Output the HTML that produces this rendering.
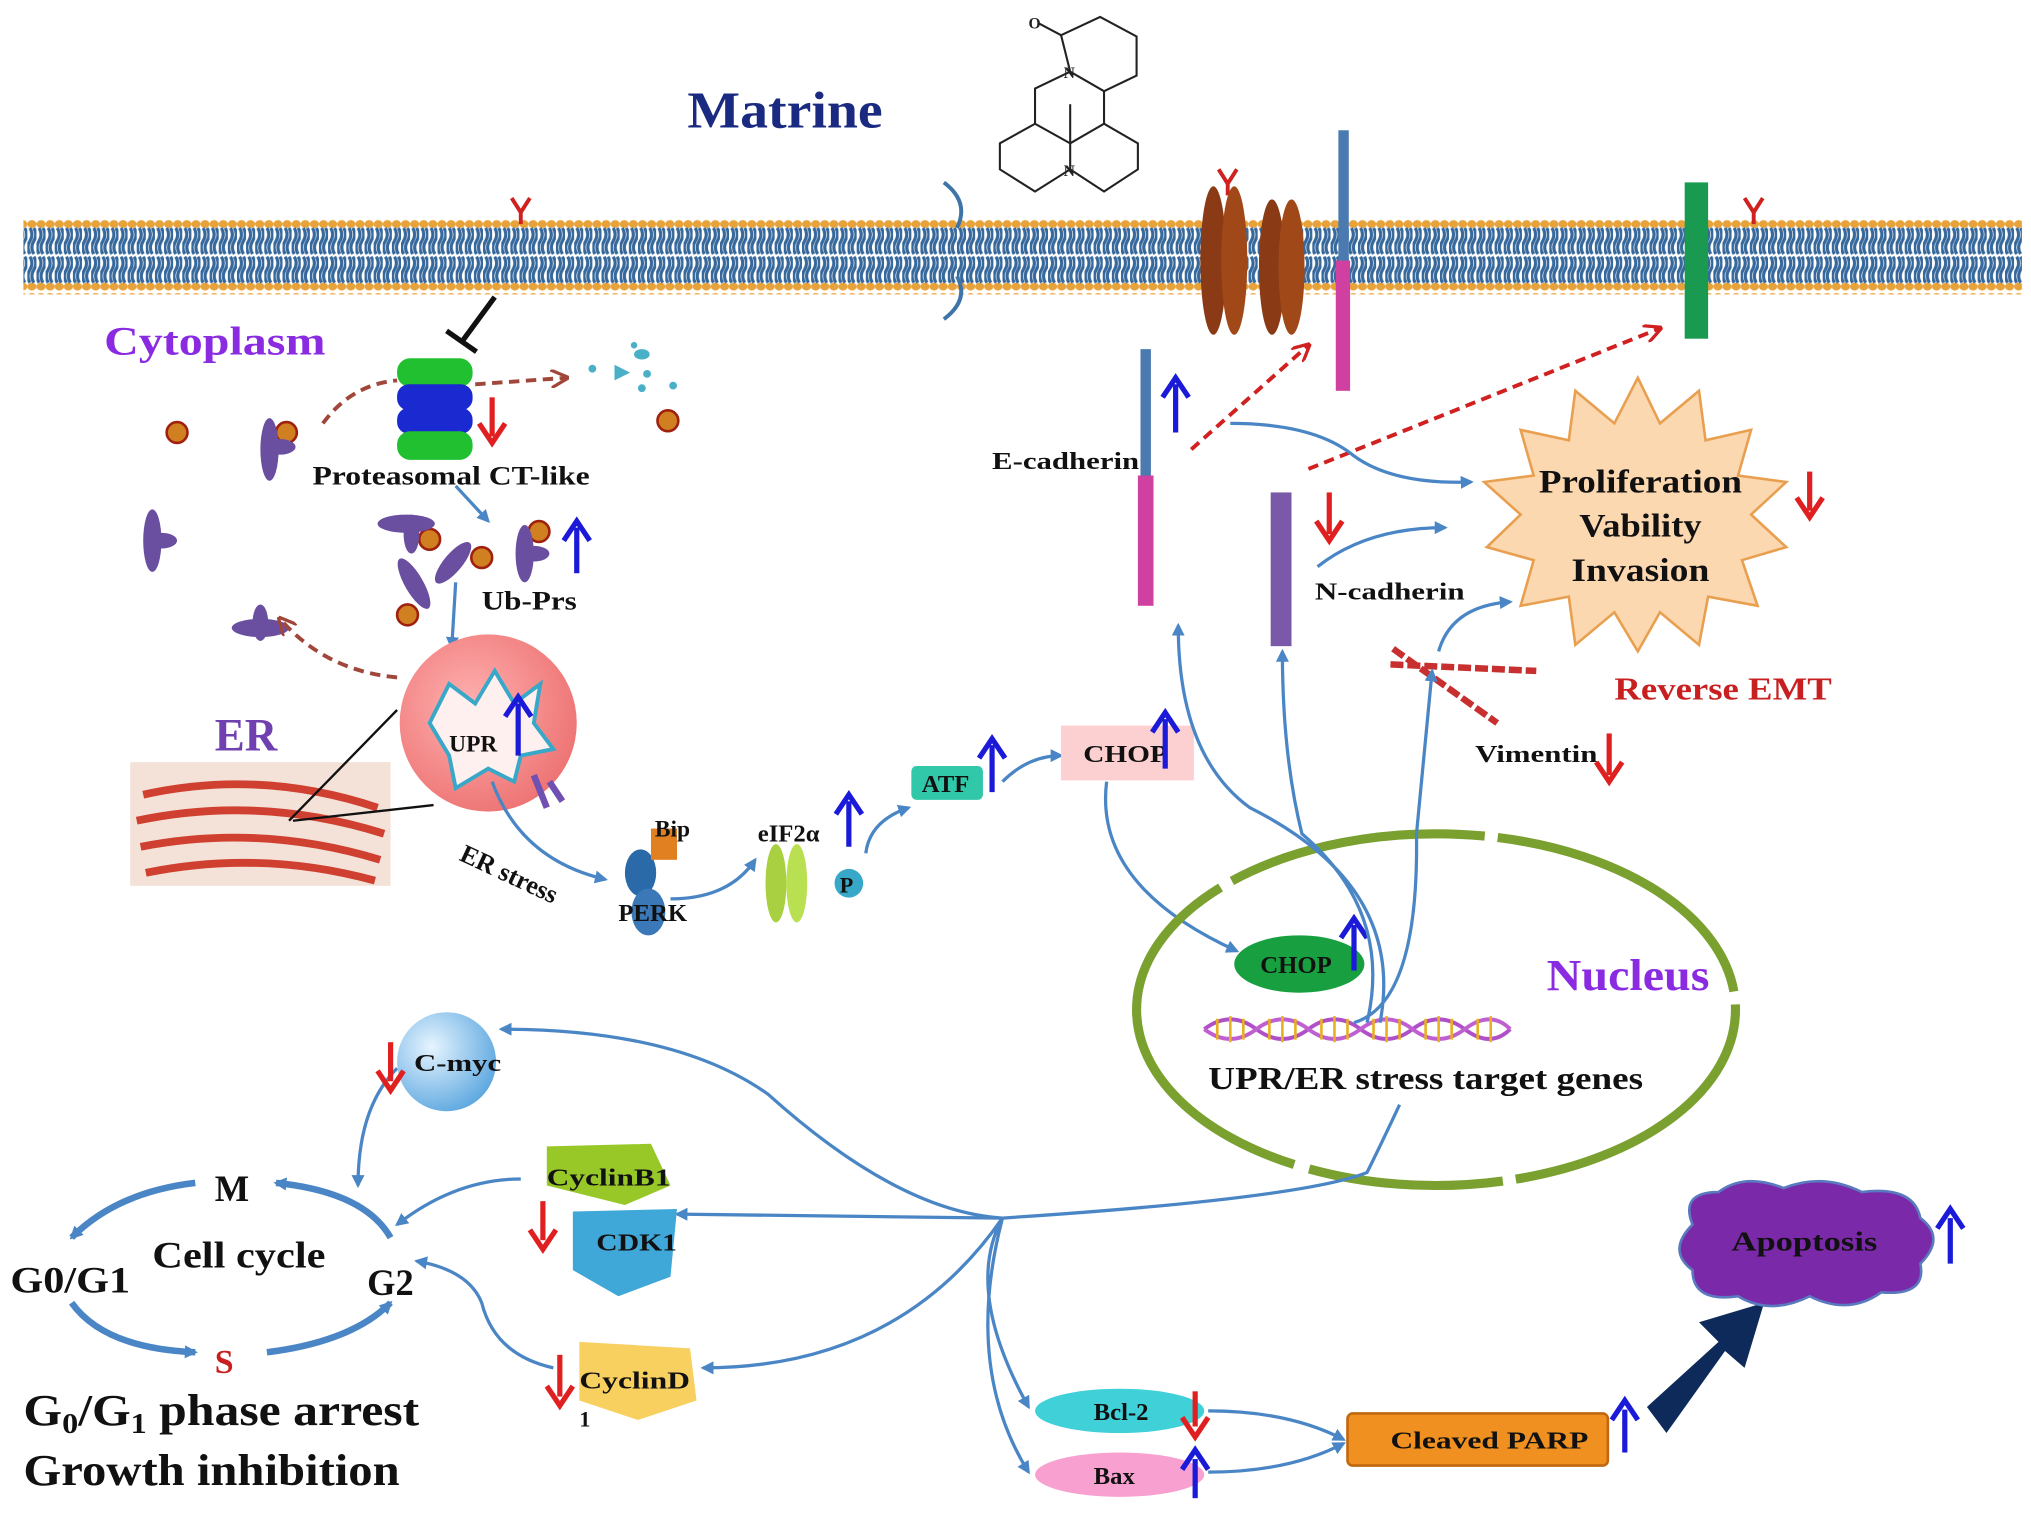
<!DOCTYPE html>
<html><head><meta charset="utf-8"><style>
html,body{margin:0;padding:0;background:#fff;}
svg{display:block;}
text{font-family:"Liberation Serif",serif;font-weight:bold;}
</style></head><body>
<svg width="2031" height="1519" viewBox="0 0 1560 1166" preserveAspectRatio="none" xmlns="http://www.w3.org/2000/svg">
<defs>
<pattern id="lip" width="7" height="56" patternUnits="userSpaceOnUse">
<rect width="7" height="56" fill="#fff"/>
<ellipse cx="3.5" cy="4" rx="3.5" ry="3" fill="#e8a23a"/>
<ellipse cx="3.5" cy="52" rx="3.5" ry="3" fill="#e8a23a"/>
<path d="M2 7 q3 5 0 10 q-3 5 0 10" stroke="#36689c" stroke-width="2.4" fill="none"/>
<path d="M5 7 q3 5 0 10 q-3 5 0 10" stroke="#36689c" stroke-width="2.4" fill="none"/>
<path d="M2 29 q3 5 0 10 q-3 5 0 10" stroke="#36689c" stroke-width="2.4" fill="none"/>
<path d="M5 29 q3 5 0 10 q-3 5 0 10" stroke="#36689c" stroke-width="2.4" fill="none"/>
</pattern>
<marker id="ab" markerWidth="10" markerHeight="10" refX="8" refY="5" orient="auto" markerUnits="userSpaceOnUse"><path d="M0 0 L10 5 L0 10 z" fill="#4a86c5"/></marker>
<marker id="ar" markerWidth="14" markerHeight="14" refX="12" refY="7" orient="auto" markerUnits="userSpaceOnUse"><path d="M0 0 L14 7 L0 14" fill="none" stroke="#d02020" stroke-width="2.5"/></marker>
<marker id="abr" markerWidth="14" markerHeight="14" refX="12" refY="7" orient="auto" markerUnits="userSpaceOnUse"><path d="M0 0 L14 7 L0 14" fill="none" stroke="#a0463a" stroke-width="2.5"/></marker>
<radialGradient id="sph" cx="35%" cy="35%" r="70%"><stop offset="0" stop-color="#e6f4ff"/><stop offset="1" stop-color="#5fa9e0"/></radialGradient>
<radialGradient id="upr" cx="40%" cy="40%" r="70%"><stop offset="0" stop-color="#ffb0b0"/><stop offset="1" stop-color="#ec6e6e"/></radialGradient>
</defs>

<rect x="18" y="168" width="1535" height="58" fill="url(#lip)"/>

<g stroke="#d02020" stroke-width="3" fill="none">
<path d="M393 152 L400 163 L407 152 M400 163 L400 172"/>
<path d="M936 130 L943 141 L950 130 M943 141 L943 150"/>
<path d="M1340 152 L1347 163 L1354 152 M1347 163 L1347 172"/>
</g>

<text x="528" y="98" font-size="40" fill="#1a2a80" textLength="150" lengthAdjust="spacingAndGlyphs">Matrine</text>
<g stroke="#222" stroke-width="1.6" fill="none">
<path d="M822 55 L815 27 L845 13 L873 28 L873 58 L848 70 Z"/>
<path d="M815 27 L798 18"/>
<path d="M822 55 L795 68 L795 95 M848 70 L848 95"/>
<path d="M768 110 L795 95 L822 110 L822 130 L795 147 L768 130 Z"/>
<path d="M822 110 L848 95 L874 110 L874 130 L848 147 L822 130"/>
<path d="M822 80 L822 110"/>
</g>
<text x="790" y="22" font-size="12" font-family="Liberation Sans" fill="#222">O</text>
<text x="817" y="60" font-size="12" font-family="Liberation Sans" fill="#222">N</text>
<text x="817" y="135" font-size="12" font-family="Liberation Sans" fill="#222">N</text>

<path d="M725 140 Q745 155 735 175 M725 245 Q745 230 735 212" stroke="#3f74a8" stroke-width="3" fill="none"/>
<ellipse cx="932" cy="200" rx="10" ry="57" fill="#8a3a14"/><ellipse cx="948" cy="200" rx="10" ry="57" fill="#a04818"/>
<ellipse cx="977" cy="205" rx="10" ry="52" fill="#8a3a14"/><ellipse cx="992" cy="205" rx="10" ry="52" fill="#a04818"/>
<rect x="1028" y="100" width="8" height="100" fill="#4a7ab0"/>
<rect x="1026" y="200" width="11" height="100" fill="#d040a0"/>
<rect x="1294" y="140" width="18" height="120" fill="#1a9a50"/>

<text x="80" y="272" font-size="31" fill="#8a2be2" textLength="170" lengthAdjust="spacingAndGlyphs">Cytoplasm</text>
<path d="M380 228 L355 262 M343 254 L366 270" stroke="#111" stroke-width="4"/>
<g>
<rect x="305" y="275" width="58" height="22" rx="10" fill="#20c030"/>
<rect x="305" y="295" width="58" height="20" rx="9" fill="#1a2ad0"/>
<rect x="305" y="313" width="58" height="20" rx="9" fill="#1a2ad0"/>
<rect x="305" y="331" width="58" height="22" rx="10" fill="#20c030"/>
</g>
<path d="M378 305 L378 335" stroke="#e02020" stroke-width="4"/><path d="M368 325 L378 340 L388 325" fill="none" stroke="#e02020" stroke-width="4"/>
<path d="M248 325 Q270 295 305 292 M365 295 L435 290" stroke="#a0463a" stroke-width="3" stroke-dasharray="8 5" fill="none" marker-end="url(#abr)"/>
<g fill="#4ab0c8"><circle cx="455" cy="283" r="3"/><ellipse cx="493" cy="272" rx="6" ry="4"/><path d="M472 280 L484 286 L472 292z"/><circle cx="487" cy="265" r="2.5"/><circle cx="497" cy="287" r="3"/><circle cx="493" cy="298" r="3"/><circle cx="517" cy="296" r="3"/></g>
<g fill="#d08020" stroke="#a02010" stroke-width="2"><circle cx="136" cy="332" r="8"/><circle cx="220" cy="332" r="8"/><circle cx="513" cy="323" r="8"/><circle cx="330" cy="414" r="8"/><circle cx="370" cy="428" r="8"/><circle cx="414" cy="408" r="8"/><circle cx="313" cy="472" r="8"/></g>
<text x="240" y="372" font-size="20" fill="#111" textLength="213" lengthAdjust="spacingAndGlyphs">Proteasomal CT-like</text>
<g fill="#6a4fa0">
<ellipse cx="207" cy="345" rx="7" ry="24"/><ellipse cx="215" cy="343" rx="12" ry="6"/>
<ellipse cx="117" cy="415" rx="7" ry="24"/><ellipse cx="124" cy="415" rx="12" ry="6"/>
<ellipse cx="200" cy="482" rx="22" ry="7"/><ellipse cx="200" cy="478" rx="6" ry="14"/>
<ellipse cx="312" cy="402" rx="22" ry="7"/><ellipse cx="316" cy="410" rx="6" ry="15"/>
<ellipse cx="348" cy="432" rx="7" ry="20" transform="rotate(40 348 432)"/>
<ellipse cx="318" cy="448" rx="7" ry="22" transform="rotate(-30 318 448)"/>
<ellipse cx="403" cy="425" rx="7" ry="22"/><ellipse cx="410" cy="425" rx="12" ry="6"/>
</g>
<path d="M443 440 L443 405" stroke="#1a1ad8" stroke-width="4"/><path d="M433 415 L443 400 L453 415" fill="none" stroke="#1a1ad8" stroke-width="4"/>
<text x="370" y="468" font-size="20" fill="#111" textLength="73" lengthAdjust="spacingAndGlyphs">Ub-Prs</text>
<path d="M350 373 L375 400" stroke="#4a86c5" stroke-width="2.5" marker-end="url(#ab)"/>
<path d="M350 447 L347 497" stroke="#4a86c5" stroke-width="2.5" marker-end="url(#ab)"/>

<text x="165" y="576" font-size="36" fill="#7040b0" textLength="48" lengthAdjust="spacingAndGlyphs">ER</text>
<rect x="100" y="585" width="200" height="95" fill="#f4e2d8"/>
<g stroke="#d04030" stroke-width="6" fill="none">
<path d="M110 610 Q200 590 290 620"/><path d="M105 630 Q200 610 295 640"/><path d="M108 650 Q200 632 292 660"/><path d="M112 670 Q200 652 288 676"/>
</g>
<circle cx="375" cy="555" r="68" fill="url(#upr)"/>
<path d="M330 555 L345 525 L365 540 L380 515 L395 540 L415 525 L410 555 L425 575 L400 580 L395 600 L375 590 L350 605 L345 580 Z" fill="#fff0f0" stroke="#38a8c8" stroke-width="3"/>
<path d="M398 580 L398 540" stroke="#1a1ad8" stroke-width="4"/><path d="M388 550 L398 535 L408 550" fill="none" stroke="#1a1ad8" stroke-width="4"/>
<text x="345" y="577" font-size="18" fill="#111">UPR</text>
<path d="M305 545 L222 630 M333 618 L225 630" stroke="#111" stroke-width="1.8"/>
<path d="M305 520 Q250 515 215 475" stroke="#a0463a" stroke-width="3" stroke-dasharray="8 5" fill="none" marker-end="url(#abr)"/>
<path d="M410 595 L420 620 M422 600 L432 615" stroke="#7050b0" stroke-width="5"/>
<text x="352" y="660" font-size="20" fill="#111" transform="rotate(25 352 660)">ER  stress</text>
<path d="M378 600 Q400 660 465 675" stroke="#4a86c5" stroke-width="2.5" fill="none" marker-end="url(#ab)"/>

<ellipse cx="492" cy="670" rx="12" ry="18" fill="#2a6aa8"/><ellipse cx="498" cy="700" rx="13" ry="18" fill="#3a78b8"/>
<rect x="500" y="636" width="20" height="24" fill="#e08020"/>
<text x="503" y="642" font-size="18" fill="#111">Bip</text>
<text x="475" y="707" font-size="19" fill="#111">PERK</text>
<path d="M515 690 Q560 690 580 660" stroke="#4a86c5" stroke-width="2.5" fill="none" marker-end="url(#ab)"/>
<ellipse cx="596" cy="678" rx="8" ry="30" fill="#a8d040"/><ellipse cx="612" cy="678" rx="8" ry="30" fill="#b8e050"/>
<circle cx="652" cy="678" r="11" fill="#38a8c8"/><text x="645" y="685" font-size="17" fill="#111">P</text>
<text x="582" y="646" font-size="19" fill="#111">eIF2α</text>
<path d="M652 650 L652 615" stroke="#1a1ad8" stroke-width="4"/><path d="M642 625 L652 610 L662 625" fill="none" stroke="#1a1ad8" stroke-width="4"/>
<path d="M665 655 Q668 630 698 620" stroke="#4a86c5" stroke-width="2.5" fill="none" marker-end="url(#ab)"/>
<rect x="700" y="588" width="55" height="26" rx="4" fill="#30c8a8"/>
<text x="708" y="608" font-size="19" fill="#111">ATF</text>
<path d="M762 608 L762 572" stroke="#1a1ad8" stroke-width="4"/><path d="M752 582 L762 567 L772 582" fill="none" stroke="#1a1ad8" stroke-width="4"/>
<path d="M770 600 Q790 580 815 580" stroke="#4a86c5" stroke-width="2.5" fill="none" marker-end="url(#ab)"/>
<rect x="815" y="557" width="102" height="42" fill="#fcd0d0"/>
<text x="832" y="585" font-size="19" fill="#111" textLength="65" lengthAdjust="spacingAndGlyphs">CHOP</text>
<path d="M895 590 L895 552" stroke="#1a1ad8" stroke-width="4"/><path d="M885 562 L895 547 L905 562" fill="none" stroke="#1a1ad8" stroke-width="4"/>
<path d="M850 600 Q840 680 950 730" stroke="#4a86c5" stroke-width="2.5" fill="none" marker-end="url(#ab)"/>

<rect x="876" y="268" width="8" height="100" fill="#4a7ab0"/>
<rect x="874" y="365" width="12" height="100" fill="#d040a0"/>
<text x="762" y="360" font-size="19" fill="#111" textLength="113" lengthAdjust="spacingAndGlyphs">E-cadherin</text>
<path d="M903 332 L903 295" stroke="#1a1ad8" stroke-width="4"/><path d="M893 305 L903 290 L913 305" fill="none" stroke="#1a1ad8" stroke-width="4"/>
<path d="M915 345 L1005 265" stroke="#d02020" stroke-width="3" stroke-dasharray="8 5" marker-end="url(#ar)"/>
<path d="M1005 360 L1275 252" stroke="#d02020" stroke-width="3" stroke-dasharray="8 5" marker-end="url(#ar)"/>
<path d="M945 325 Q1010 325 1040 350 Q1070 372 1130 370" stroke="#4a86c5" stroke-width="2.5" fill="none" marker-end="url(#ab)"/>
<rect x="976" y="378" width="16" height="118" fill="#7a5aa8"/>
<path d="M1021 378 L1021 410" stroke="#e02020" stroke-width="4"/><path d="M1011 400 L1021 415 L1031 400" fill="none" stroke="#e02020" stroke-width="4"/>
<text x="1010" y="460" font-size="19" fill="#111" textLength="115" lengthAdjust="spacingAndGlyphs">N-cadherin</text>
<path d="M1012 435 Q1050 405 1110 405" stroke="#4a86c5" stroke-width="2.5" fill="none" marker-end="url(#ab)"/>
<path d="M1068 510 L1180 515 M1070 498 L1150 555" stroke="#c83030" stroke-width="5" stroke-dasharray="10 3"/>
<path d="M1105 500 Q1115 465 1160 462" stroke="#4a86c5" stroke-width="2.5" fill="none" marker-end="url(#ab)"/>
<text x="1133" y="585" font-size="19" fill="#111" textLength="94" lengthAdjust="spacingAndGlyphs">Vimentin</text>
<path d="M1236 563 L1236 595" stroke="#e02020" stroke-width="4"/><path d="M1226 585 L1236 600 L1246 585" fill="none" stroke="#e02020" stroke-width="4"/>
<text x="1240" y="537" font-size="24" fill="#c82020" textLength="167" lengthAdjust="spacingAndGlyphs">Reverse EMT</text>
<path d="M1258 290 L1275 325 L1305 300 L1310 338 L1345 330 L1335 365 L1372 370 L1345 395 L1372 420 L1338 430 L1350 465 L1312 458 L1305 495 L1275 470 L1258 500 L1240 470 L1210 495 L1205 458 L1168 465 L1178 430 L1142 420 L1168 395 L1140 370 L1178 365 L1168 330 L1205 338 L1210 300 L1240 325 Z" fill="#fcd8b0" stroke="#e8a050" stroke-width="2"/>
<text x="1260" y="378" font-size="25" fill="#111" text-anchor="middle" textLength="156" lengthAdjust="spacingAndGlyphs">Proliferation</text>
<text x="1260" y="412" font-size="25" fill="#111" text-anchor="middle" textLength="94" lengthAdjust="spacingAndGlyphs">Vability</text>
<text x="1260" y="446" font-size="25" fill="#111" text-anchor="middle" textLength="106" lengthAdjust="spacingAndGlyphs">Invasion</text>
<path d="M1390 362 L1390 392" stroke="#e02020" stroke-width="4"/><path d="M1380 382 L1390 397 L1400 382" fill="none" stroke="#e02020" stroke-width="4"/>

<ellipse cx="1103" cy="775" rx="230" ry="135" fill="none" stroke="#7aa030" stroke-width="7" stroke-dasharray="230 10 150 12 300 10 200 10"/>
<text x="1188" y="760" font-size="34" fill="#8a2be2" textLength="125" lengthAdjust="spacingAndGlyphs">Nucleus</text>
<ellipse cx="998" cy="740" rx="50" ry="22" fill="#18a040"/>
<text x="968" y="747" font-size="19" fill="#111">CHOP</text>
<path d="M1040 745 L1040 710" stroke="#1a1ad8" stroke-width="4"/><path d="M1030 720 L1040 705 L1050 720" fill="none" stroke="#1a1ad8" stroke-width="4"/>
<g stroke-width="3" fill="none">
<path d="M925 790 Q945 775 965 790 T1005 790 T1045 790 T1085 790 T1125 790 T1160 790" stroke="#b050c8"/>
<path d="M925 790 Q945 805 965 790 T1005 790 T1045 790 T1085 790 T1125 790 T1160 790" stroke="#c060d0"/>
</g>
<g stroke-width="2"><path d="M935 782v16M945 780v20M955 782v16M975 782v16M985 780v20M995 782v16M1015 782v16M1025 780v20M1035 782v16M1055 782v16M1065 780v20M1075 782v16M1095 782v16M1105 780v20M1115 782v16M1135 782v16M1145 780v20" stroke="#e8b020"/></g>
<text x="928" y="836" font-size="24" fill="#111" textLength="334" lengthAdjust="spacingAndGlyphs">UPR/ER stress target genes</text>
<g stroke="#4a86c5" stroke-width="2.5" fill="none">
<path d="M1040 785 Q1090 770 1088 640 L1100 515" marker-end="url(#ab)"/>
<path d="M1050 785 Q1070 700 1000 640 Q985 580 985 500" marker-end="url(#ab)"/>
<path d="M1060 785 Q1080 680 960 620 Q905 580 905 480" marker-end="url(#ab)"/>
<path d="M1075 848 Q1060 880 1050 900 Q1000 920 770 935"/>
<path d="M770 935 Q690 930 590 840 Q520 790 385 790" marker-end="url(#ab)"/>
<path d="M770 935 L520 932" marker-end="url(#ab)"/>
<path d="M770 935 Q690 1050 540 1050" marker-end="url(#ab)"/>
<path d="M770 935 Q740 990 790 1080" marker-end="url(#ab)"/>
<path d="M770 935 Q740 1050 790 1130" marker-end="url(#ab)"/>
<path d="M928 1083 Q990 1083 1032 1105" marker-end="url(#ab)"/>
<path d="M928 1130 Q990 1130 1032 1108" marker-end="url(#ab)"/>
<path d="M305 820 Q275 850 275 910" marker-end="url(#ab)"/>
<path d="M400 905 Q350 905 305 940" marker-end="url(#ab)"/>
<path d="M425 1050 Q380 1040 370 1000 Q360 975 320 968" marker-end="url(#ab)"/>
</g>
<circle cx="343" cy="815" r="38" fill="url(#sph)"/>
<text x="318" y="822" font-size="19" fill="#111" textLength="67" lengthAdjust="spacingAndGlyphs">C-myc</text>
<path d="M300 800 L300 830" stroke="#e02020" stroke-width="4"/><path d="M290 822 L300 837 L310 822" fill="none" stroke="#e02020" stroke-width="4"/>
<path d="M420 880 L500 878 L515 910 L480 925 L420 910 Z" fill="#98c828"/>
<text x="420" y="910" font-size="19" fill="#111" textLength="95" lengthAdjust="spacingAndGlyphs">CyclinB1</text>
<path d="M440 930 L520 928 L515 980 L475 995 L440 975 Z" fill="#40a8d8"/>
<text x="458" y="960" font-size="19" fill="#111" textLength="62" lengthAdjust="spacingAndGlyphs">CDK1</text>
<path d="M417 922 L417 952" stroke="#e02020" stroke-width="4"/><path d="M407 944 L417 959 L427 944" fill="none" stroke="#e02020" stroke-width="4"/>
<path d="M445 1030 L530 1035 L535 1075 L490 1090 L445 1075 Z" fill="#f8d060"/>
<text x="445" y="1066" font-size="19" fill="#111" textLength="85" lengthAdjust="spacingAndGlyphs">CyclinD</text>
<text x="445" y="1095" font-size="17" fill="#111">1</text>
<path d="M430 1040 L430 1072" stroke="#e02020" stroke-width="4"/><path d="M420 1064 L430 1079 L440 1064" fill="none" stroke="#e02020" stroke-width="4"/>
<g stroke="#4a86c5" stroke-width="5" fill="none">
<path d="M150 908 Q90 915 55 950" marker-end="url(#ab)"/>
<path d="M55 1000 Q80 1035 150 1038" marker-end="url(#ab)"/>
<path d="M205 1038 Q270 1030 300 1000" marker-end="url(#ab)"/>
<path d="M300 950 Q280 915 212 908" marker-end="url(#ab)"/>
</g>
<text x="165" y="922" font-size="28" fill="#111">M</text>
<text x="117" y="973" font-size="28" fill="#111" textLength="133" lengthAdjust="spacingAndGlyphs">Cell cycle</text>
<text x="8" y="992" font-size="28" fill="#111" textLength="92" lengthAdjust="spacingAndGlyphs">G0/G1</text>
<text x="282" y="994" font-size="28" fill="#111">G2</text>
<text x="165" y="1054" font-size="26" fill="#c82020">S</text>
<text x="18" y="1094" font-size="34" fill="#111" textLength="304" lengthAdjust="spacingAndGlyphs">G<tspan font-size="22" dy="6">0</tspan><tspan dy="-6">/G</tspan><tspan font-size="22" dy="6">1</tspan><tspan dy="-6"> phase arrest</tspan></text>
<text x="18" y="1140" font-size="34" fill="#111" textLength="289" lengthAdjust="spacingAndGlyphs">Growth inhibition</text>
<ellipse cx="860" cy="1083" rx="65" ry="17" fill="#40d0d8"/>
<text x="840" y="1090" font-size="19" fill="#111">Bcl-2</text>
<path d="M918 1068 L918 1095" stroke="#e02020" stroke-width="4"/><path d="M908 1088 L918 1103 L928 1088" fill="none" stroke="#e02020" stroke-width="4"/>
<ellipse cx="860" cy="1132" rx="65" ry="17" fill="#f8a0d0"/>
<text x="840" y="1139" font-size="19" fill="#111">Bax</text>
<path d="M918 1150 L918 1120" stroke="#1a1ad8" stroke-width="4"/><path d="M908 1128 L918 1113 L928 1128" fill="none" stroke="#1a1ad8" stroke-width="4"/>
<rect x="1035" y="1085" width="200" height="40" rx="4" fill="#f09020" stroke="#c06810" stroke-width="2"/>
<text x="1068" y="1112" font-size="19" fill="#111" textLength="152" lengthAdjust="spacingAndGlyphs">Cleaved PARP</text>
<path d="M1248 1115 L1248 1082" stroke="#1a1ad8" stroke-width="4"/><path d="M1238 1090 L1248 1075 L1258 1090" fill="none" stroke="#1a1ad8" stroke-width="4"/>
<path d="M1265 1080 L1320 1030 L1305 1015 L1355 1000 L1340 1050 L1325 1037 L1280 1100 Z" fill="#0e2a5a"/>
<path d="M1300 940 Q1290 915 1320 915 Q1340 900 1370 912 Q1400 900 1430 915 Q1470 910 1475 935 Q1495 950 1475 970 Q1480 995 1445 992 Q1420 1010 1390 995 Q1360 1010 1335 995 Q1300 1000 1300 975 Q1280 960 1300 940 Z" fill="#7a2aa8" stroke="#5a7ac0" stroke-width="2"/>
<text x="1330" y="960" font-size="21" fill="#111" textLength="112" lengthAdjust="spacingAndGlyphs">Apoptosis</text>
<path d="M1498 970 L1498 935" stroke="#1a1ad8" stroke-width="4"/><path d="M1488 943 L1498 928 L1508 943" fill="none" stroke="#1a1ad8" stroke-width="4"/>
</svg>
</body></html>
